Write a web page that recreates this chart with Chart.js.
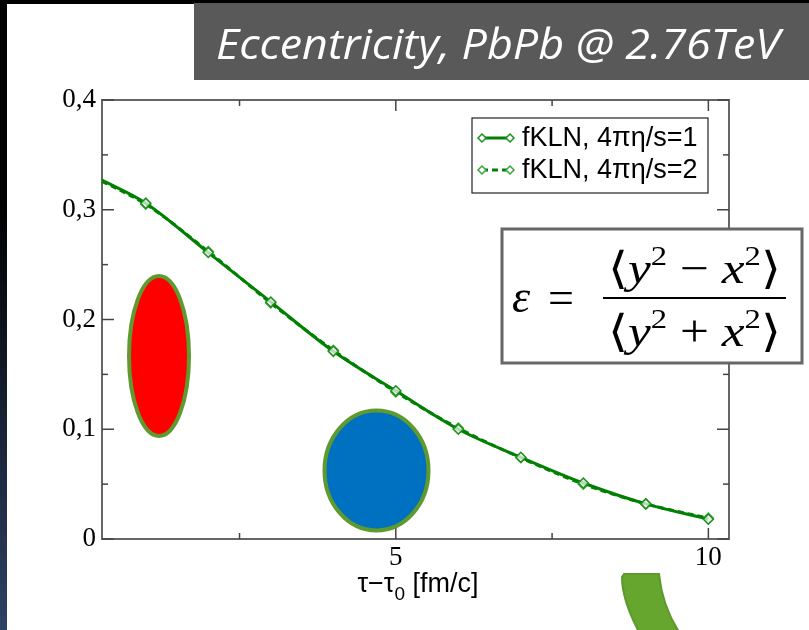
<!DOCTYPE html>
<html>
<head>
<meta charset="utf-8">
<script src="https://cdn.jsdelivr.net/npm/chart.js@4.4.0/dist/chart.umd.min.js"></script>
<style>
  html, body { margin: 0; padding: 0; background: #000; }
  #wrap { width: 809px; height: 630px; }
</style>
</head>
<body>
<div id="wrap"><canvas id="chart" width="809" height="630"></canvas></div>
<script>
// values
const tau = [0.3, 1, 2, 3, 4, 5, 6, 7, 8, 9, 10];
const eccEta1 = [0.327, 0.306, 0.261, 0.216, 0.171, 0.135, 0.100, 0.0745, 0.051, 0.032, 0.018];
const eccEta2 = [0.326, 0.305, 0.262, 0.215, 0.172, 0.134, 0.101, 0.074, 0.050, 0.032, 0.019];
const seriesLabels = ["fKLN, 4πη/s=1", "fKLN, 4πη/s=2"];
const xMajorTicks = [5, 10];
const xMinorTicks = [2.5, 7.5];
const yMajorTicks = [0, 0.1, 0.2, 0.3, 0.4];
const yMinorTicks = [0.05, 0.15, 0.25, 0.35];
const titleText = "Eccentricity, PbPb @ 2.76TeV";

const lineGreen = "#008000";
const shapeGreen = "#5f9a2e";

function toPoints(ys) {
  return tau.map((t, i) => ({ x: t, y: ys[i] }));
}

// markers only on the integer points, not on the start point
const markerRadius = (ctx) => (ctx.dataIndex === 0 ? 0 : 5);

// background, title bar
const backdrop = {
  id: "backdrop",
  beforeDraw(chart) {
    const c = chart.ctx;
    c.save();
    c.fillStyle = "#000";
    c.fillRect(0, 0, 809, 630);
    const g = c.createLinearGradient(0, 200, 0, 630);
    g.addColorStop(0, "#000");
    g.addColorStop(1, "#2e4264");
    c.fillStyle = g;
    c.fillRect(0, 200, 8, 430);
    c.fillStyle = "#fff";
    c.fillRect(7, 4, 802, 626);
    c.fillStyle = "#595959";
    c.fillRect(194, 3, 615, 77);
    c.fillStyle = "#fff";
    c.font = "italic 42px 'Open Sans'";
    c.textBaseline = "alphabetic";
    const w = c.measureText(titleText).width;
    c.translate(216, 59);
    c.scale(564 / w, 1);
    c.fillText(titleText, 0, 0);
    c.restore();
  }
};

// frame and inward ticks on all four sides
const frame = {
  id: "frame",
  beforeDatasetsDraw(chart) {
    const c = chart.ctx;
    const a = chart.chartArea;
    const xs = chart.scales.x, ys = chart.scales.y;
    c.save();
    c.strokeStyle = "#666";
    c.lineWidth = 2;
    c.strokeRect(a.left, a.top, a.right - a.left, a.bottom - a.top);
    c.lineWidth = 1.5;
    c.strokeStyle = "#444";
    const tick = (x1, y1, x2, y2) => { c.beginPath(); c.moveTo(x1, y1); c.lineTo(x2, y2); c.stroke(); };
    xMajorTicks.forEach(v => { const p = xs.getPixelForValue(v); tick(p, a.bottom, p, a.bottom - 11); tick(p, a.top, p, a.top + 11); });
    xMinorTicks.forEach(v => { const p = xs.getPixelForValue(v); tick(p, a.bottom, p, a.bottom - 6); tick(p, a.top, p, a.top + 6); });
    yMajorTicks.forEach(v => { const p = ys.getPixelForValue(v); tick(a.left, p, a.left + 12, p); tick(a.right, p, a.right - 12, p); });
    yMinorTicks.forEach(v => { const p = ys.getPixelForValue(v); tick(a.left, p, a.left + 6, p); tick(a.right, p, a.right - 6, p); });
    c.restore();
  }
};

function diamond(c, x, y, r, stroke) {
  c.beginPath();
  c.moveTo(x, y - r); c.lineTo(x + r, y); c.lineTo(x, y + r); c.lineTo(x - r, y); c.closePath();
  c.fillStyle = "#fff"; c.fill();
  c.strokeStyle = stroke; c.lineWidth = 1.5; c.stroke();
}

// legend box inside the plot, formula, ellipses, x title
const overlay = {
  id: "overlay",
  afterDraw(chart) {
    const c = chart.ctx;
    c.save();

    // legend
    c.fillStyle = "#fff";
    c.fillRect(472, 118, 236, 75);
    c.strokeStyle = "#222";
    c.lineWidth = 1.2;
    c.strokeRect(472, 118, 236, 75);
    chart.data.datasets.forEach((ds, i) => {
      const y = 138 + i * 32;
      c.strokeStyle = ds.borderColor;
      c.lineWidth = 3;
      c.setLineDash(ds.borderDash || []);
      c.beginPath(); c.moveTo(482, y); c.lineTo(510, y); c.stroke();
      c.setLineDash([]);
      diamond(c, 482, y, 4, ds.pointBorderColor);
      diamond(c, 510, y, 4, ds.pointBorderColor);
      c.fillStyle = "#000";
      c.font = "27px 'Liberation Sans'";
      c.textBaseline = "middle";
      c.fillText(ds.label, 522, y + 1);
    });

    // formula box
    c.fillStyle = "#fff";
    c.fillRect(502, 229, 300, 134);
    c.strokeStyle = "#666";
    c.lineWidth = 3;
    c.strokeRect(502, 229, 300, 134);
    c.fillStyle = "#000";
    c.textBaseline = "alphabetic";
    c.font = "italic 46px 'Liberation Serif'";
    c.fillText("ε", 512, 312);
    c.font = "46px 'Liberation Serif'";
    c.fillText("=", 548, 313);
    c.fillRect(603, 297, 183, 2);
    const frac = (sign, base) => {
      const parts = [
        ["⟨", "44px 'DejaVu Serif'", 0],
        ["y", "italic 44px 'Liberation Serif'", 0],
        ["2", "28px 'Liberation Serif'", -18],
        [" " + sign + " ", "44px 'Liberation Serif'", 0],
        ["x", "italic 44px 'Liberation Serif'", 0],
        ["2", "28px 'Liberation Serif'", -18],
        ["⟩", "44px 'DejaVu Serif'", 0]
      ];
      let total = 0;
      parts.forEach(p => { c.font = p[1]; total += c.measureText(p[0]).width; });
      const k = 173 / total;
      c.save();
      c.translate(694.5 - 173 / 2, base);
      c.scale(k, 1);
      let x = 0;
      parts.forEach(p => { c.font = p[1]; c.fillText(p[0], x, p[2]); x += c.measureText(p[0]).width; });
      c.restore();
    };
    frac("−", 283);
    frac("+", 346);

    // shapes
    c.lineWidth = 4;
    c.strokeStyle = shapeGreen;
    c.fillStyle = "#ff0000";
    c.beginPath(); c.ellipse(159, 356, 30, 80, 0, 0, Math.PI * 2); c.fill(); c.stroke();
    c.fillStyle = "#0070c0";
    c.beginPath(); c.ellipse(376.5, 470.5, 52, 60, 0, 0, Math.PI * 2); c.fill(); c.stroke();

    // green arrow piece at the bottom
    c.fillStyle = "#66a52e";
    c.strokeStyle = "#5b9a2b";
    c.lineWidth = 2;
    c.beginPath();
    c.moveTo(624, 574);
    c.lineTo(659, 574);
    c.quadraticCurveTo(662, 605, 679, 632);
    c.lineTo(639, 632);
    c.quadraticCurveTo(622, 600, 622, 577);
    c.closePath();
    c.fill(); c.stroke();

    // x axis title with subscript
    c.fillStyle = "#000";
    const tParts = [
      ["τ−τ", "27px 'Liberation Sans'", 0],
      ["0", "19px 'Liberation Sans'", 8],
      [" [fm/c]", "27px 'Liberation Sans'", 0]
    ];
    let tw = 0;
    tParts.forEach(p => { c.font = p[1]; tw += c.measureText(p[0]).width; });
    let tx = 418 - tw / 2;
    tParts.forEach(p => { c.font = p[1]; c.fillText(p[0], tx, 592 + p[2]); tx += c.measureText(p[0]).width; });

    c.restore();
  }
};

const ctx = document.getElementById("chart");
new Chart(ctx, {
  type: "line",
  data: {
    datasets: [
      {
        label: seriesLabels[0],
        data: toPoints(eccEta1),
        borderColor: lineGreen,
        borderWidth: 3,
        cubicInterpolationMode: "monotone",
        pointStyle: "rectRot",
        pointRadius: markerRadius,
        pointBackgroundColor: "rgba(255,255,255,0.7)",
        pointBorderColor: "#1f8f1f",
        pointBorderWidth: 1.5
      },
      {
        label: seriesLabels[1],
        data: toPoints(eccEta2),
        borderColor: lineGreen,
        borderWidth: 3,
        borderDash: [6, 4],
        cubicInterpolationMode: "monotone",
        pointStyle: "rectRot",
        pointRadius: markerRadius,
        pointBackgroundColor: "rgba(255,255,255,0.5)",
        pointBorderColor: "#3aa53a",
        pointBorderWidth: 1.5
      }
    ]
  },
  options: {
    responsive: false,
    animation: false,
    layout: { padding: { left: 0, top: 100, right: 80, bottom: 0 } },
    plugins: {
      legend: { display: false },
      tooltip: { enabled: false }
    },
    scales: {
      x: {
        type: "linear",
        min: 0.3,
        max: 10.33,
        grid: { display: false, drawTicks: false },
        border: { display: false },
        afterBuildTicks: (s) => { s.ticks = xMajorTicks.map(v => ({ value: v })); },
        afterFit: (s) => { s.height = 91; },
        ticks: {
          color: "#000",
          padding: 3,
          font: { family: "'Liberation Serif'", size: 27 },
          callback: (v) => String(v)
        }
      },
      y: {
        min: 0,
        max: 0.4,
        grid: { display: false, drawTicks: false },
        border: { display: false },
        afterBuildTicks: (s) => { s.ticks = yMajorTicks.map(v => ({ value: v })); },
        afterFit: (s) => { s.width = 102; },
        ticks: {
          color: "#000",
          padding: 6,
          font: { family: "'Liberation Serif'", size: 27 },
          callback: (v) => (v === 0 ? "0" : v.toFixed(1).replace(".", ","))
        }
      }
    }
  },
  plugins: [backdrop, frame, overlay]
});
</script>
</body>
</html>
